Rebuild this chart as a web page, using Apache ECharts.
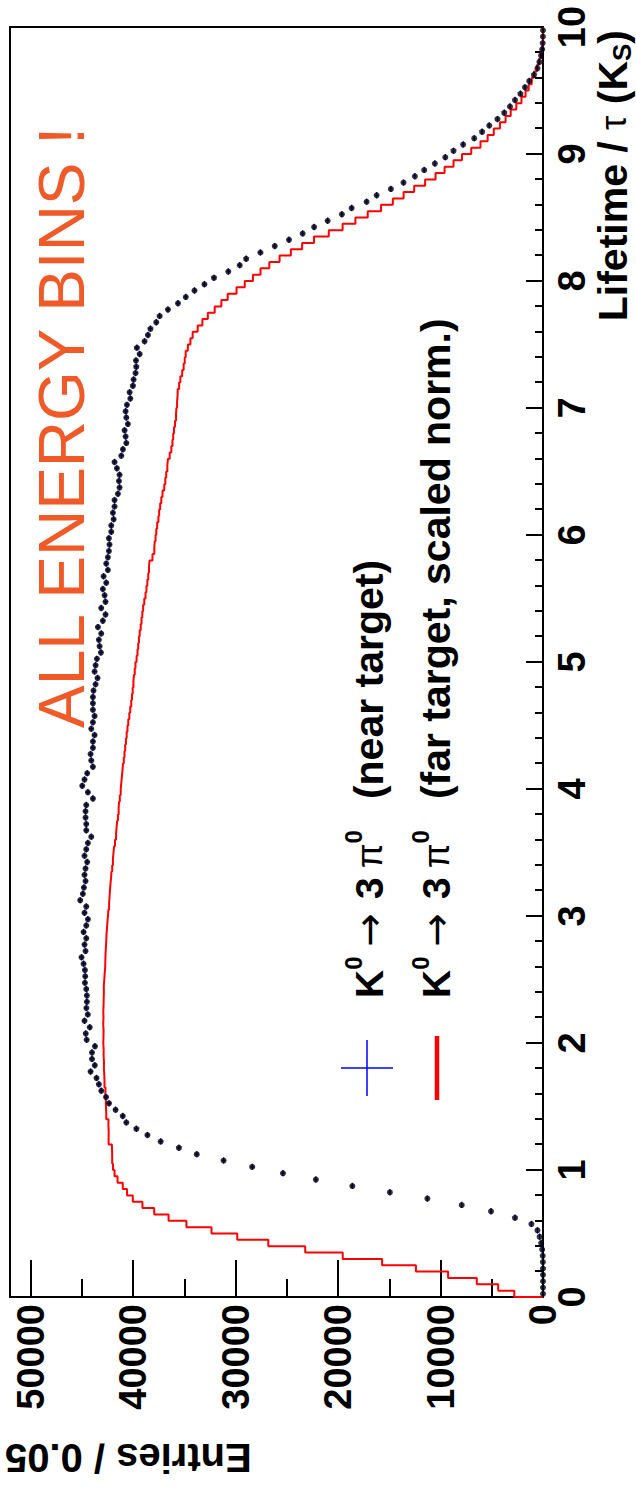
<!DOCTYPE html>
<html>
<head>
<meta charset="utf-8">
<script src="https://cdn.jsdelivr.net/npm/echarts@6/dist/echarts.min.js"></script>
<style>
  html, body { margin: 0; padding: 0; background: #fff; }
  #page { position: absolute; left: 0; top: 0; width: 636px; height: 1497px; overflow: hidden; background: #fff; }
  #chart { position: absolute; left: 0; top: 0; width: 1497px; height: 636px;
           transform-origin: 0 0; transform: translateY(1497px) rotate(-90deg); }
</style>
</head>
<body>
<div id="page"><div id="chart"></div></div>
<script>
// ---------------- data (Entries per 0.05 bin of Lifetime / tau(K_S), 0..10) ----------------
const binWidth = 0.05;
const lifetimeRange = [0, 10];
const entriesRange = [0, 52000];

// K0 -> 3 pi0 (near target): points with error bars
const nearTarget = [
  0,0,0,0,0,10,30,80,180,330,
  540,1130,2730,5070,7930,11280,14940,18600,22160,25370,
  28370,31160,33780,35520,37300,38590,39670,40650,41000,41700,
  42340,42630,43090,43330,43560,44140,43730,44000,44000,43710,
  44520,44610,44220,44730,44410,44550,44500,44500,44560,44690,
  44660,44690,44820,45020,44630,44730,44560,44820,44560,44400,
  44730,44560,45150,44890,44790,44630,44730,44630,44470,44730,
  44560,44400,44070,44560,44560,44630,44630,44560,43910,44400,
  44950,44730,44470,43910,44070,44140,43910,43910,43750,44070,
  43910,43750,43910,43910,43910,43850,43650,43460,43750,43650,
  43520,43130,43260,43330,43100,43420,42940,42680,43100,42680,
  42770,42940,42610,42870,42450,42610,42450,42350,42290,42350,
  42120,42120,41890,41960,41800,41800,41470,41310,41370,41310,
  41570,41800,41140,40980,40650,40720,40820,40500,40650,40720,
  40590,40260,40330,40010,39940,39750,39680,39710,39350,39620,
  38870,38540,38300,37730,37400,36590,35610,34850,34000,33030,
  32100,30700,29590,28960,27570,26170,24780,23450,22330,21010,
  19620,18670,17210,16230,14840,13610,12500,11590,10550,9530,
  8730,7790,6710,5940,5240,4440,3780,3220,2730,2200,
  1760,1340,880,540,350,190,80,30,10,0
];

// K0 -> 3 pi0 (far target, scaled norm.): histogram
const farTarget = [
  2800,4370,6460,9260,12400,15700,19540,23200,26800,29830,
  32340,34790,36530,37930,39080,40020,40580,41000,41510,41800,
  41950,42030,42040,42060,42380,42370,42400,42390,42610,42640,
  42650,42700,42680,42780,42800,42840,42830,42870,42860,42900,
  42880,42870,42910,42880,42900,42870,42860,42840,42850,42800,
  42760,42710,42700,42680,42650,42610,42590,42540,42500,42440,
  42400,42330,42290,42250,42200,42140,42100,42030,41960,41900,
  41840,41760,41650,41600,41540,41470,41400,41360,41290,41200,
  41140,41080,41020,40980,40900,40830,40760,40690,40620,40540,
  40460,40360,40270,40170,40100,40030,39960,39900,39830,39760,
  39650,39560,39490,39420,39350,39250,39170,39090,39010,38900,
  38780,38690,38600,38510,38440,38380,38100,37920,37880,37800,
  37730,37640,37520,37450,37350,37240,37120,36950,36850,36760,
  36650,36590,36420,36260,36150,36080,36000,35900,35800,35770,
  35700,35650,35640,35500,35380,35200,35060,34950,34860,34650,
  34400,34180,33690,33230,32700,32030,31380,30760,29900,29100,
  28300,27560,26700,25700,24600,23500,22340,20900,19550,18300,
  17100,15800,14650,13600,12570,11500,10480,9600,8730,7900,
  7000,6100,5400,4800,4200,3650,3150,2600,2100,1700,
  1400,1100,880,600,400,200,100,0,0,0
];

const xTitle = 'Lifetime / ';
const yTitle = 'Entries / 0.05';
const annotation = 'ALL ENERGY BINS !';
const legendNear = '(near target)';
const legendFar = '(far target, scaled norm.)';

// ---------------- derived series ----------------
const farLine = [[lifetimeRange[0], 0]];
farTarget.forEach((v, k) => farLine.push([k * binWidth, v]));
farLine.push([farTarget.length * binWidth, farTarget[farTarget.length - 1]]);
farLine.push([farTarget.length * binWidth, 0]);

const nearPts = nearTarget.map((v, k) => [(k + 0.5) * binWidth, v, Math.sqrt(v)]);

// ---------------- chart ----------------
const FONT = "'Liberation Sans', Arial, Helvetica, sans-serif";
const chart = echarts.init(document.getElementById('chart'), null, { renderer: 'svg', width: 1497, height: 636 });

const legendRich = {
  k:   { fontSize: 39, fontWeight: 'bold', fontFamily: FONT, fill: '#000', lineHeight: 56 },
  t:   { fontSize: 41, fontWeight: 'bold', fontFamily: FONT, fill: '#000', lineHeight: 56 },
  sup1:{ fontSize: 24, fontWeight: 'bold', fontFamily: FONT, fill: '#000', lineHeight: 24, verticalAlign: 'top', padding: [0, 10, 0, 0] },
  arr: { fontSize: 40, fontFamily: "'DejaVu Sans', " + FONT, fill: '#000', lineHeight: 56, padding: [0, 14, 0, 0] },
  three:{ fontSize: 39, fontWeight: 'bold', fontFamily: FONT, fill: '#000', lineHeight: 56, padding: [0, 9, 0, 0] },
  pi:  { fontSize: 36, fontFamily: FONT, fill: '#000', lineHeight: 56 },
  sup2:{ fontSize: 24, fontWeight: 'bold', fontFamily: FONT, fill: '#000', lineHeight: 24, verticalAlign: 'top', padding: [0, 31, 0, 0] }
};
const legendPrefix = '{k|K}{sup1|0}{arr|\u2192}{three|3}{pi|\u03C0}{sup2|0}';

const option = {
  animation: false,
  backgroundColor: '#fff',
  grid: { left: 200, right: 27, top: 10, bottom: 93, show: true, borderColor: '#000', borderWidth: 2,
          containLabel: false, outerBoundsMode: 'none' },
  xAxis: {
    type: 'value', min: lifetimeRange[0], max: lifetimeRange[1], interval: 1,
    axisLine: { show: true, onZero: false, lineStyle: { color: '#000', width: 2 } },
    axisTick: { show: true, inside: true, length: 17, lineStyle: { color: '#000', width: 2 } },
    minorTick: { show: true, splitNumber: 5, length: 8, lineStyle: { color: '#000', width: 2 } },
    splitLine: { show: false }, minorSplitLine: { show: false },
    axisLabel: { fontSize: 38, fontWeight: 'bold', color: '#000', fontFamily: FONT, margin: 10,
                 formatter: v => String(v) }
  },
  yAxis: [{
    type: 'value', min: entriesRange[0], max: entriesRange[1], interval: 10000,
    axisLine: { show: true, onZero: false, lineStyle: { color: '#000', width: 2 } },
    axisTick: { show: true, inside: true, length: 37, lineStyle: { color: '#000', width: 2 } },
    splitLine: { show: false },
    axisLabel: { fontSize: 38, fontWeight: 'bold', color: '#000', fontFamily: FONT, margin: 7, showMaxLabel: false,
                 formatter: v => String(v) }
  }, {
    type: 'value', min: entriesRange[0], max: entriesRange[1], interval: 5000, position: 'left',
    axisLine: { show: false },
    axisTick: { show: true, inside: true, length: 18, lineStyle: { color: '#000', width: 2 } },
    splitLine: { show: false },
    axisLabel: { show: false }
  }],
  series: [
    {
      type: 'line', data: farLine, step: 'end', showSymbol: false, symbol: 'none',
      lineStyle: { color: '#ff0000', width: 2 }, itemStyle: { color: '#ff0000' },
      clip: true, z: 2
    },
    {
      type: 'custom', data: nearPts, encode: { x: 0, y: 1 }, clip: true, z: 3,
      renderItem: function (params, api) {
        const t = api.value(0), v = api.value(1), e = api.value(2);
        const a = api.coord([t - binWidth / 2, v]), b = api.coord([t + binWidth / 2, v]);
        const c = api.coord([t, v - e]), d = api.coord([t, v + e]);
        return { type: 'group', children: [
          { type: 'line', shape: { x1: a[0], y1: a[1], x2: b[0], y2: b[1] }, style: { stroke: '#0000ff', lineWidth: 1.3 } },
          { type: 'line', shape: { x1: c[0], y1: c[1], x2: d[0], y2: d[1] }, style: { stroke: '#0000ff', lineWidth: 1.3 } }
        ]};
      }
    },
    {
      type: 'scatter', data: nearPts.map(p => [p[0], p[1]]), symbol: 'circle', symbolSize: 6,
      itemStyle: { color: '#000' }, z: 4
    }
  ],
  graphic: [
    // annotation
    { type: 'text', x: 769, y: 62, z: 10,
      style: { text: annotation, font: '64px ' + FONT, fill: '#f05a28', align: 'left', verticalAlign: 'middle' } },
    // legend markers
    { type: 'line', z: 10, shape: { x1: 401, y1: 367, x2: 457, y2: 367 }, style: { stroke: '#0000ff', lineWidth: 1.5 } },
    { type: 'line', z: 10, shape: { x1: 429, y1: 341, x2: 429, y2: 393 }, style: { stroke: '#0000ff', lineWidth: 1.5 } },
    { type: 'line', z: 10, shape: { x1: 397, y1: 437, x2: 461, y2: 437 }, style: { stroke: '#ff0000', lineWidth: 4.5 } },
    // legend texts
    { type: 'text', x: 499, y: 369, z: 10,
      style: { text: legendPrefix + '{t|' + legendNear + '}', rich: legendRich, align: 'left', verticalAlign: 'middle' } },
    { type: 'text', x: 499, y: 436, z: 10,
      style: { text: legendPrefix + '{t|' + legendFar + '}', rich: legendRich, align: 'left', verticalAlign: 'middle' } },
    // x axis title
    { type: 'text', x: 1467, y: 613, z: 10,
      style: {
        text: '{b|' + xTitle + '}{tau|\u03C4}{b| (K}{sub|S}{b|)}',
        align: 'right', verticalAlign: 'middle',
        rich: {
          b:   { fontSize: 41, fontWeight: 'bold', fontFamily: FONT, fill: '#000', lineHeight: 44 },
          tau: { fontSize: 36, fontFamily: FONT, fill: '#000', lineHeight: 44 },
          sub: { fontSize: 26, fontWeight: 'bold', fontFamily: FONT, fill: '#000', lineHeight: 22, verticalAlign: 'bottom' }
        }
      } },
    // y axis title (vertical, reading bottom to top)
    { type: 'text', x: 39, y: 5, rotation: Math.PI / 2, z: 10,
      style: { text: yTitle, font: 'bold 40px ' + FONT, fill: '#000', align: 'right', verticalAlign: 'middle' } }
  ]
};
chart.setOption(option);
</script>
</body>
</html>
